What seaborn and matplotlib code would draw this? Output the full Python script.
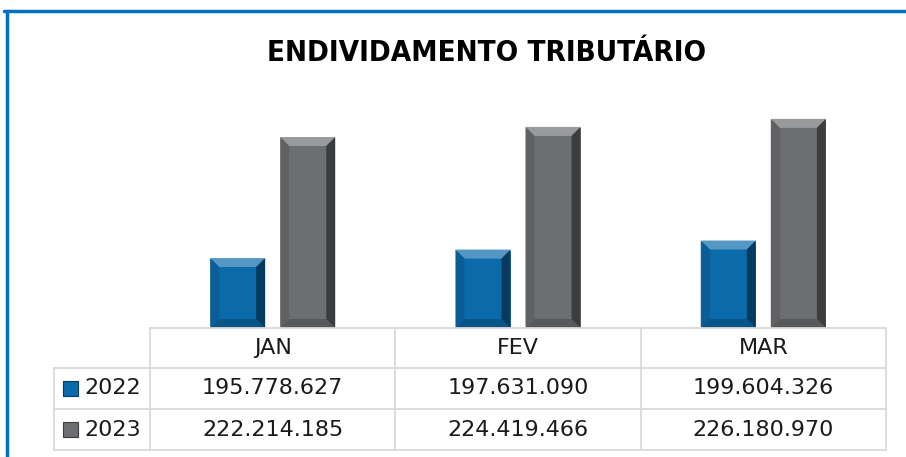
import numpy as np
import pandas as pd
import seaborn as sns
import matplotlib.pyplot as plt
import matplotlib.colors as mcolors
from matplotlib.patches import Polygon, Rectangle
from matplotlib.lines import Line2D

# Data
months = ["JAN", "FEV", "MAR"]
years = ["2022", "2023"]
values_2022 = [195778627, 197631090, 199604326]
values_2023 = [222214185, 224419466, 226180970]

W, H = 906, 457
BLUE = "#0B6AAA"
GRAY = "#6D6E71"
GRID = "#D9D9D9"
FRAME = "#0070C0"

sns.set_theme(style="white")
plt.rcParams["font.family"] = ["DejaVu Sans"]


def fx(px):
    return px / W


def fy(py):
    return 1 - py / H


def shade(c, f):
    rgb = np.array(mcolors.to_rgb(c))
    if f < 1:
        return tuple(rgb * f)
    return tuple(rgb + (1 - rgb) * (f - 1))


def fmt(v):
    return f"{v:,}".replace(",", ".")


df = pd.DataFrame({
    "Mes": months * 2,
    "Ano": [years[0]] * 3 + [years[1]] * 3,
    "Valor": values_2022 + values_2023,
})

fig = plt.figure(figsize=(W / 100, H / 100), dpi=100)
ax = fig.add_axes([fx(150), fy(328), 736 / W, 228 / H])
sns.barplot(data=df, x="Mes", y="Valor", hue="Ano", palette=[BLUE, GRAY],
            width=0.571, gap=0.214, saturation=1, legend=False, ax=ax)
ax.set_xlim(-0.5, 2.5)
ax.set_ylim(180.5e6, 230.3e6)
ax.axis("off")

# bevel look on each bar
y_lo, y_hi = ax.get_ylim()
sx = 736 / 3
sy = 228 / (y_hi - y_lo)
dx, dy = 9 / sx, 9 / sy
for p in list(ax.patches):
    x0 = p.get_x()
    x1 = x0 + p.get_width()
    y1 = p.get_y() + p.get_height()
    y0 = max(p.get_y(), y_lo)
    c = p.get_facecolor()
    faces = [
        ([(x0, y1), (x1, y1), (x1 - dx, y1 - dy), (x0 + dx, y1 - dy)], 1.3),
        ([(x0, y0), (x1, y0), (x1 - dx, y0 + dy), (x0 + dx, y0 + dy)], 0.8),
        ([(x0, y0), (x0 + dx, y0 + dy), (x0 + dx, y1 - dy), (x0, y1)], 0.88),
        ([(x1, y0), (x1 - dx, y0 + dy), (x1 - dx, y1 - dy), (x1, y1)], 0.55),
    ]
    for pts, f in faces:
        ax.add_patch(Polygon(pts, closed=True, facecolor=shade(c, f), edgecolor="none"))

# blue frame
fig.add_artist(Line2D([fx(4), fx(906)], [fy(11), fy(11)], color=FRAME, lw=2.5))
fig.add_artist(Line2D([fx(7), fx(7)], [fy(11), fy(457)], color=FRAME, lw=2.5))

# title, squeezed to the width of the original
title = fig.text(fx(487), fy(53), "ENDIVIDAMENTO TRIBUTÁRIO", ha="center", va="center",
                 fontsize=22, fontweight="bold", fontstretch="condensed", color="black")
renderer = fig.canvas.get_renderer()
tw = title.get_window_extent(renderer).width
if tw > 440:
    title.set_fontsize(22 * 438 / tw)

# data table
col_edges = [ax.transData.transform((i - 0.5, 0))[0] for i in range(len(months) + 1)]
row_y = [328, 368, 409, 450]
left = 54
lw = 1.3


def hline(y, xa, xb):
    fig.add_artist(Line2D([fx(xa), fx(xb)], [fy(y), fy(y)], color=GRID, lw=lw))


def vline(x, ya, yb):
    fig.add_artist(Line2D([fx(x), fx(x)], [fy(ya), fy(yb)], color=GRID, lw=lw))


hline(row_y[0], col_edges[0], col_edges[-1])
for y in row_y[1:]:
    hline(y, left, col_edges[-1])
vline(left, row_y[1], row_y[-1])
for x in col_edges:
    vline(x, row_y[0], row_y[-1])

for i, m in enumerate(months):
    cx = (col_edges[i] + col_edges[i + 1]) / 2
    fig.text(fx(cx), fy((row_y[0] + row_y[1]) / 2), m, ha="center", va="center",
             fontsize=16, color="#1A1A1A")

series = [values_2022, values_2023]
colors = [BLUE, GRAY]
for r, (yr, vals, c) in enumerate(zip(years, series, colors)):
    ymid = (row_y[r + 1] + row_y[r + 2]) / 2
    fig.add_artist(Rectangle((fx(63), fy(ymid + 7.5)), 15 / W, 15 / H,
                             facecolor=c, edgecolor=shade(c, 0.55), lw=0.8))
    fig.text(fx(84), fy(ymid), yr, ha="left", va="center", fontsize=16, color="#1A1A1A")
    for i, v in enumerate(vals):
        cx = (col_edges[i] + col_edges[i + 1]) / 2
        fig.text(fx(cx), fy(ymid), fmt(v), ha="center", va="center",
                 fontsize=16, color="#1A1A1A")

fig.savefig("out.png", dpi=100)
